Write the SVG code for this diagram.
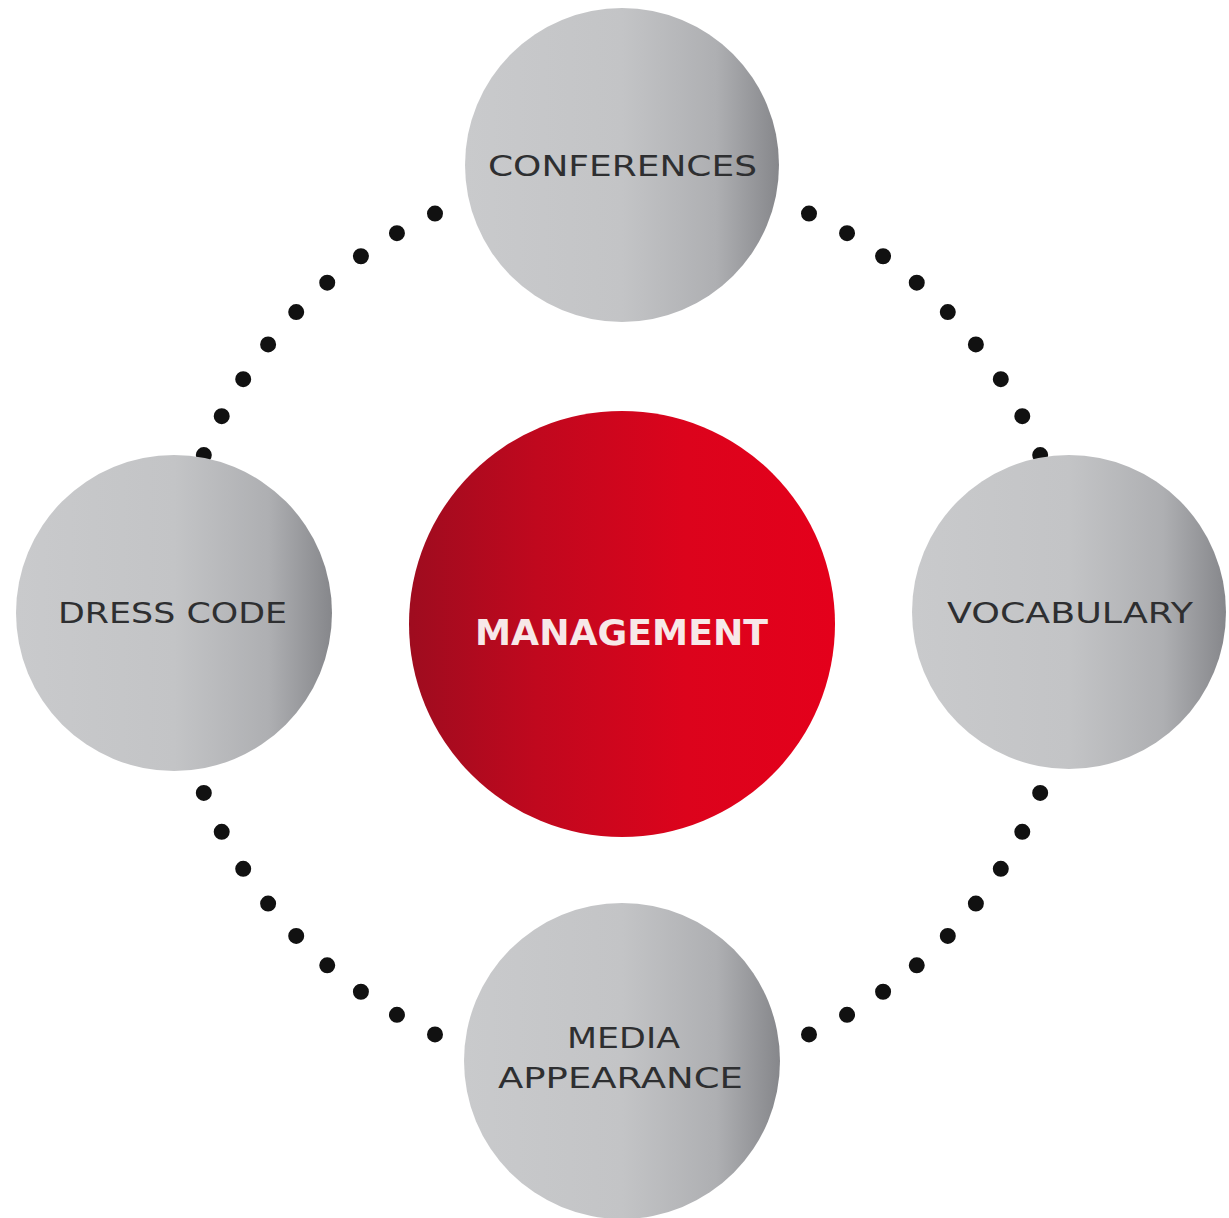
<svg xmlns="http://www.w3.org/2000/svg" width="1229" height="1218" viewBox="0 0 1229 1218">
  <defs>
    <linearGradient id="gray" x1="0" y1="0" x2="1" y2="0">
      <stop offset="0" stop-color="#c9cacc"/>
      <stop offset="0.5" stop-color="#c3c4c6"/>
      <stop offset="0.8" stop-color="#aeafb2"/>
      <stop offset="1" stop-color="#86878b"/>
    </linearGradient>
    <linearGradient id="red" x1="0" y1="0" x2="1" y2="0">
      <stop offset="0" stop-color="#9e0c1f"/>
      <stop offset="0.3" stop-color="#c0081e"/>
      <stop offset="0.65" stop-color="#dc031c"/>
      <stop offset="1" stop-color="#e4001b"/>
    </linearGradient>
    <style>
      .dots { fill: none; stroke: #111; stroke-width: 16; stroke-linecap: round; stroke-dasharray: 0 1; }
      .node { fill: url(#gray); }
      .lbl { font-family: "DejaVu Sans", "Liberation Sans", sans-serif; font-size: 29px; fill: #2e2f31; text-anchor: middle; }
      .main { font-family: "DejaVu Sans", "Liberation Sans", sans-serif; font-size: 36px; font-weight: bold; fill: #f7e8e8; text-anchor: middle; }
    </style>
  </defs>
  <rect width="1229" height="1218" fill="#ffffff"/>
  <g id="connectors">
    <path class="dots" pathLength="8.001" d="M435,213.6 A451,451 0 0 0 203.8,455.1"/>
    <path class="dots" pathLength="8.001" d="M809,213.6 A451,451 0 0 1 1040.2,455.1"/>
    <path class="dots" pathLength="8.001" d="M435,1034.4 A451,451 0 0 1 203.8,792.9"/>
    <path class="dots" pathLength="8.001" d="M809,1034.4 A451,451 0 0 0 1040.2,792.9"/>
  </g>
  <g id="node-conferences">
    <circle class="node" cx="622" cy="165" r="157"/>
    <text class="lbl" x="622.5" y="176" textLength="269" lengthAdjust="spacingAndGlyphs">CONFERENCES</text>
  </g>
  <g id="node-dress-code">
    <circle class="node" cx="174" cy="613" r="158"/>
    <text class="lbl" x="172.5" y="623" textLength="229" lengthAdjust="spacingAndGlyphs">DRESS CODE</text>
  </g>
  <g id="node-vocabulary">
    <circle class="node" cx="1069" cy="612" r="157"/>
    <text class="lbl" x="1070" y="623" textLength="246" lengthAdjust="spacingAndGlyphs">VOCABULARY</text>
  </g>
  <g id="node-media-appearance">
    <circle class="node" cx="622" cy="1061" r="158"/>
    <text class="lbl" x="623.5" y="1048" textLength="113" lengthAdjust="spacingAndGlyphs">MEDIA</text>
    <text class="lbl" x="620.5" y="1088" textLength="245" lengthAdjust="spacingAndGlyphs">APPEARANCE</text>
  </g>
  <g id="node-management">
    <circle cx="622" cy="624" r="213" fill="url(#red)"/>
    <text class="main" x="621.5" y="645" textLength="293" lengthAdjust="spacingAndGlyphs">MANAGEMENT</text>
  </g>
</svg>
